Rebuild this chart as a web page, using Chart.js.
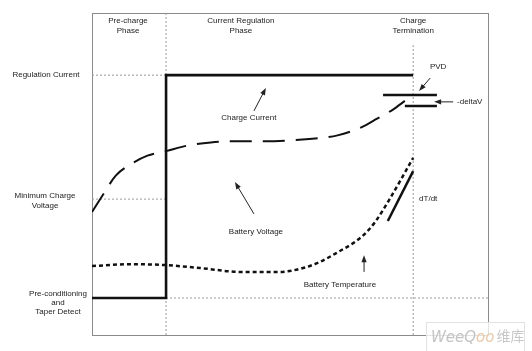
<!DOCTYPE html>
<html>
<head>
<meta charset="utf-8">
<script src="https://cdn.jsdelivr.net/npm/chart.js@4.4.0/dist/chart.umd.min.js"></script>
<style>
  html, body { margin: 0; padding: 0; background: #fff; }
  #wrap { position: relative; width: 532px; height: 351px; }
</style>
</head>
<body>
<div id="wrap"><canvas id="chart" width="532" height="351"></canvas></div>
<script>
// ─── Data (time 0..100 across the frame, level 0..100 bottom to top) ─────────
const phaseEdges = [18.7, 81.1];
const terminationTop = 90.4;
const levelValues = [80.7, 42.2, 11.5];
const levelLabels = [['Regulation Current'], ['Minimum Charge', 'Voltage'], ['Pre-conditioning', 'and', 'Taper Detect']];
const phaseLabels = [['Pre-charge', 'Phase'], ['Current Regulation', 'Phase'], ['Charge', 'Termination']];
const phaseLabelX = [9.1, 37.6, 81.1];

const currentX = [0, 18.7, 18.7, 81.1];
const currentY = [11.5, 11.5, 80.7, 80.7];

const voltageX = [0, 3, 6, 10, 14, 18.7, 24, 30, 38, 46, 54, 62, 68, 72, 76, 79];
const voltageY = [38.2, 44, 49.5, 53.2, 55.7, 57.1, 58.8, 59.8, 60.2, 60.2, 60.8, 62.0, 64.5, 67.2, 70.0, 72.7];

const tempX = [0, 9.6, 18.7, 27.3, 37.4, 47.5, 53.3, 57.6, 62.6, 66.4, 68.9, 71.5, 75.3, 81.1];
const tempY = [21.4, 22.0, 21.7, 20.8, 19.6, 19.6, 20.8, 22.7, 26.1, 28.9, 31.4, 35.1, 42.5, 55.0];

const dtdtX = [74.7, 81.1];
const dtdtY = [35.4, 50.9];

const pvdX = [73.5, 87.1];
const pvdY = [74.5, 74.5];
const deltaVX = [79.0, 87.1];
const deltaVY = [71.1, 71.1];

// notes inside the frame, in data units
const notes = [
  { text: 'Charge Current', x: 39.6, y: 67.4, align: 'center' },
  { text: 'Battery Voltage', x: 41.4, y: 32.0, align: 'center' },
  { text: 'Battery Temperature', x: 62.6, y: 15.5, align: 'center' },
  { text: 'PVD', x: 87.4, y: 83.2, align: 'center' },
  { text: '-deltaV', x: 92.2, y: 72.4, align: 'left' },
  { text: 'dT/dt', x: 82.6, y: 42.2, align: 'left' }
];
// arrows [fromX, fromY, toX, toY]
const arrows = [
  [40.9, 69.6, 43.9, 76.7],
  [40.9, 37.6, 36.1, 47.5],
  [68.7, 19.6, 68.7, 24.8],
  [85.4, 79.8, 82.6, 75.8],
  [91.2, 72.4, 86.4, 72.4]
];

// ─── Helpers ─────────────────────────────────────────────────────────────────
const FONT = '8px "Liberation Sans", Arial, sans-serif';
const INK = '#222';
const GUIDE = '#9a9a9a';
const zip = (xs, ys) => xs.map((x, i) => ({ x, y: ys[i] }));

function guide(xs, ys) {
  return { data: zip(xs, ys), borderColor: GUIDE, borderWidth: 1, borderDash: [2, 2], tension: 0, order: 10 };
}

function drawLines(ctx, lines, cx, cy, align, lh) {
  ctx.textAlign = align;
  const top = cy - (lines.length - 1) * lh / 2;
  lines.forEach((l, i) => ctx.fillText(l, cx, top + i * lh));
}

const diagram = {
  id: 'diagram',
  beforeDatasetsDraw(chart) {
    const { ctx, chartArea: a } = chart;
    ctx.save();
    ctx.strokeStyle = '#8a8a8a';
    ctx.lineWidth = 1;
    ctx.strokeRect(a.left + 0.5, a.top + 0.5, a.right - a.left, a.bottom - a.top);
    ctx.restore();
  },
  afterDatasetsDraw(chart) {
    const { ctx, chartArea: a, scales: { x, y } } = chart;
    ctx.save();
    ctx.font = FONT;
    ctx.fillStyle = INK;
    ctx.textBaseline = 'middle';

    // phase headings
    phaseLabels.forEach((lines, i) => drawLines(ctx, lines, x.getPixelForValue(phaseLabelX[i]), a.top + 12.5, 'center', 10));

    // level labels left of the frame
    const levelCx = [a.left - 46, a.left - 47, a.left - 34];
    const levelDy = [0, 2, 5];
    levelLabels.forEach((lines, i) => drawLines(ctx, lines, levelCx[i], y.getPixelForValue(levelValues[i]) + levelDy[i], 'center', i === 2 ? 9 : 10));

    notes.forEach(n => drawLines(ctx, [n.text], x.getPixelForValue(n.x), y.getPixelForValue(n.y), n.align, 10));

    // arrows
    ctx.strokeStyle = INK;
    ctx.lineWidth = 1;
    arrows.forEach(([x1, y1, x2, y2]) => {
      const p1 = [x.getPixelForValue(x1), y.getPixelForValue(y1)];
      const p2 = [x.getPixelForValue(x2), y.getPixelForValue(y2)];
      const ang = Math.atan2(p2[1] - p1[1], p2[0] - p1[0]);
      ctx.beginPath(); ctx.moveTo(p1[0], p1[1]); ctx.lineTo(p2[0] - 5 * Math.cos(ang), p2[1] - 5 * Math.sin(ang)); ctx.stroke();
      ctx.beginPath();
      ctx.moveTo(p2[0], p2[1]);
      ctx.lineTo(p2[0] - 7 * Math.cos(ang) + 2.6 * Math.sin(ang), p2[1] - 7 * Math.sin(ang) - 2.6 * Math.cos(ang));
      ctx.lineTo(p2[0] - 7 * Math.cos(ang) - 2.6 * Math.sin(ang), p2[1] - 7 * Math.sin(ang) + 2.6 * Math.cos(ang));
      ctx.closePath(); ctx.fill();
    });
    ctx.restore();
  },
  afterDraw(chart) {
    // watermark box, bottom right
    const { ctx } = chart;
    ctx.save();
    ctx.fillStyle = 'rgba(255,255,255,0.75)';
    ctx.fillRect(426, 322, 99, 29);
    ctx.strokeStyle = '#e2e2e2';
    ctx.strokeRect(426.5, 322.5, 98, 29);
    ctx.textBaseline = 'alphabetic';
    ctx.textAlign = 'left';
    ctx.font = 'italic 15px "DejaVu Sans", sans-serif';
    ctx.fillStyle = '#c4c4c4';
    ctx.fillText('Wee', 431, 342);
    let w = ctx.measureText('Wee').width;
    ctx.fillText('Q', 431 + w, 342);
    w += ctx.measureText('Q').width;
    ctx.fillStyle = '#e8c8a8';
    ctx.fillText('oo', 431 + w, 342);
    w += ctx.measureText('oo').width;
    ctx.font = '14px "Noto Sans CJK SC", sans-serif';
    ctx.fillStyle = '#c8c8c8';
    ctx.fillText('维库', 433 + w, 341);
    ctx.restore();
  }
};

// ─── Chart ───────────────────────────────────────────────────────────────────
new Chart(document.getElementById('chart'), {
  type: 'line',
  data: {
    datasets: [
      { data: zip(currentX, currentY), borderColor: '#111', borderWidth: 2.6, tension: 0, order: 1 },
      { data: zip(voltageX, voltageY), borderColor: '#111', borderWidth: 2, borderDash: [22, 11], cubicInterpolationMode: 'monotone', order: 2 },
      { data: zip(tempX, tempY), borderColor: '#111', borderWidth: 2.5, borderDash: [4, 3], cubicInterpolationMode: 'monotone', order: 2 },
      { data: zip(dtdtX, dtdtY), borderColor: '#111', borderWidth: 2.5, tension: 0, order: 1 },
      { data: zip(pvdX, pvdY), borderColor: '#111', borderWidth: 2.5, tension: 0, order: 1 },
      { data: zip(deltaVX, deltaVY), borderColor: '#111', borderWidth: 2.5, tension: 0, order: 1 },
      guide([0, phaseEdges[0]], [levelValues[0], levelValues[0]]),
      guide([0, phaseEdges[0]], [levelValues[1], levelValues[1]]),
      guide([phaseEdges[0], 100], [levelValues[2], levelValues[2]]),
      guide([phaseEdges[0], phaseEdges[0]], [0, 100]),
      guide([phaseEdges[1], phaseEdges[1]], [0, terminationTop])
    ]
  },
  options: {
    responsive: false,
    animation: false,
    layout: { padding: { left: 92, right: 44, top: 13, bottom: 16 } },
    elements: { point: { radius: 0 }, line: { borderCapStyle: 'butt' } },
    plugins: { legend: { display: false }, tooltip: { enabled: false } },
    scales: {
      x: { type: 'linear', min: 0, max: 100, display: false },
      y: { type: 'linear', min: 0, max: 100, display: false }
    }
  },
  plugins: [diagram]
});
</script>
</body>
</html>
